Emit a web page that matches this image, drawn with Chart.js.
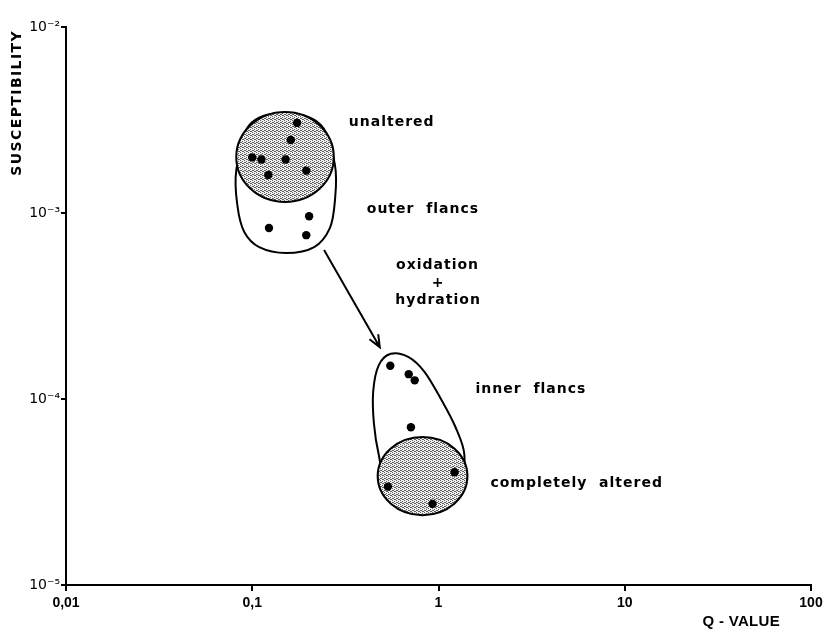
<!DOCTYPE html>
<html>
<head>
<meta charset="utf-8">
<script src="https://cdn.jsdelivr.net/npm/chart.js@4/dist/chart.umd.min.js"></script>
<style>
  body { margin: 0; background: #fff; }
  #wrap { width: 823px; height: 633px; }
</style>
</head>
<body>
<div id="wrap"><canvas id="myChart"></canvas></div>
<script>
// axis ticks
const xTickValues = [0.01, 0.1, 1, 10, 100];
const xTickLabels = ['0,01', '0,1', '1', '10', '100'];
const yTickValues = [1e-5, 1e-4, 1e-3, 1e-2];
const yTickLabels = ['10⁻⁵', '10⁻⁴', '10⁻³', '10⁻²'];

// measured samples (Q-value, susceptibility)
const unalteredQ = [0.174, 0.161, 0.100, 0.112, 0.151, 0.195, 0.122];
const unalteredK = [3.05e-3, 2.47e-3, 1.99e-3, 1.94e-3, 1.94e-3, 1.69e-3, 1.60e-3];
const outerQ = [0.202, 0.123, 0.195];
const outerK = [9.6e-4, 8.3e-4, 7.6e-4];
const innerQ = [0.551, 0.692, 0.745, 0.711];
const innerK = [1.51e-4, 1.36e-4, 1.26e-4, 7.05e-5];
const alteredQ = [1.22, 0.535, 0.929];
const alteredK = [4.04e-5, 3.38e-5, 2.73e-5];

// outlines of the groups
const outerOutlineQ = [0.150, 0.234, 0.278, 0.278, 0.261, 0.215, 0.152, 0.109, 0.0906, 0.0832, 0.0821, 0.0964];
const outerOutlineK = [3.45e-3, 2.97e-3, 1.81e-3, 1.17e-3, 8.3e-4, 6.56e-4, 6.1e-4, 6.56e-4, 7.91e-4, 1.10e-3, 1.70e-3, 2.97e-3];
const innerOutlineQ = [0.554, 0.691, 0.841, 1.025, 1.233, 1.377, 1.279, 0.821, 0.530, 0.478, 0.450, 0.446, 0.478];
const innerOutlineK = [1.75e-4, 1.68e-4, 1.40e-4, 1.01e-4, 7.07e-5, 5.0e-5, 3.45e-5, 2.69e-5, 3.6e-5, 5.0e-5, 7.4e-5, 1.10e-4, 1.52e-4];
// shaded circles: centre and radius in decades
const circleQ = [0.150, 0.821];
const circleK = [2.0e-3, 3.85e-5];
const circleRq = [0.262, 0.241];
const circleRk = [0.242, 0.21];

// arrow from upper group to lower group
const arrowQ = [0.243, 0.484];
const arrowK = [6.32e-4, 1.90e-4];

// labels
const noteText = ['unaltered', 'outer  flancs', 'oxidation', '+', 'hydration', 'inner  flancs', 'completely  altered'];
const noteQ = [0.330, 0.412, 0.988, 0.995, 0.995, 1.58, 1.90];
const noteK = [3.08e-3, 1.05e-3, 5.25e-4, 4.20e-4, 3.40e-4, 1.13e-4, 3.54e-5];
const noteAlign = ['left', 'left', 'center', 'center', 'center', 'left', 'left'];

function toPts(qs, ks) {
    return qs.map((q, i) => ({x: q, y: ks[i]}));
}

function makeStipple() {
    const c = document.createElement('canvas');
    c.width = 4; c.height = 4;
    const g = c.getContext('2d');
    g.fillStyle = '#f0f0f0';
    g.fillRect(0, 0, 4, 4);
    g.fillStyle = '#5e5e5e';
    [[0, 0], [2, 1], [1, 2], [3, 3], [2, 3], [0, 2]].forEach(p => g.fillRect(p[0], p[1], 1, 1));
    return c;
}

function smoothClosed(ctx, pts) {
    const n = pts.length;
    ctx.beginPath();
    ctx.moveTo(pts[0].x, pts[0].y);
    for (let i = 0; i < n; i++) {
        const p0 = pts[(i - 1 + n) % n], p1 = pts[i], p2 = pts[(i + 1) % n], p3 = pts[(i + 2) % n];
        ctx.bezierCurveTo(p1.x + (p2.x - p0.x) / 6, p1.y + (p2.y - p0.y) / 6,
                          p2.x - (p3.x - p1.x) / 6, p2.y - (p3.y - p1.y) / 6,
                          p2.x, p2.y);
    }
    ctx.closePath();
}

const shapesPlugin = {
    id: 'shapes',
    beforeDatasetsDraw(chart) {
        const ctx = chart.ctx, xs = chart.scales.x, ys = chart.scales.y;
        const pattern = ctx.createPattern(makeStipple(), 'repeat');
        const px = (qs, ks) => qs.map((q, i) => ({x: xs.getPixelForValue(q), y: ys.getPixelForValue(ks[i])}));
        const outlines = [px(outerOutlineQ, outerOutlineK), px(innerOutlineQ, innerOutlineK)];
        ctx.save();
        ctx.lineWidth = 2;
        ctx.strokeStyle = '#000';
        outlines.forEach((o, i) => {
            smoothClosed(ctx, o);
            ctx.fillStyle = '#fff';
            ctx.fill();
            ctx.stroke();
            // circle sits on top of the outline
            const cx = xs.getPixelForValue(circleQ[i]);
            const cy = ys.getPixelForValue(circleK[i]);
            const rx = xs.getPixelForValue(circleQ[i] * Math.pow(10, circleRq[i])) - cx;
            const ry = cy - ys.getPixelForValue(circleK[i] * Math.pow(10, circleRk[i]));
            ctx.beginPath();
            ctx.ellipse(cx, cy, rx, ry, 0, 0, Math.PI * 2);
            ctx.fillStyle = pattern;
            ctx.fill();
            ctx.stroke();
        });
        ctx.restore();
    },
    afterDatasetsDraw(chart) {
        const ctx = chart.ctx, xs = chart.scales.x, ys = chart.scales.y;
        ctx.save();
        // arrow
        const x0 = xs.getPixelForValue(arrowQ[0]), y0 = ys.getPixelForValue(arrowK[0]);
        const x1 = xs.getPixelForValue(arrowQ[1]), y1 = ys.getPixelForValue(arrowK[1]);
        const ang = Math.atan2(y1 - y0, x1 - x0);
        ctx.strokeStyle = '#000';
        ctx.lineWidth = 2;
        ctx.beginPath();
        ctx.moveTo(x0, y0);
        ctx.lineTo(x1, y1);
        ctx.moveTo(x1 - 13 * Math.cos(ang - 0.4), y1 - 13 * Math.sin(ang - 0.4));
        ctx.lineTo(x1, y1);
        ctx.lineTo(x1 - 13 * Math.cos(ang + 0.4), y1 - 13 * Math.sin(ang + 0.4));
        ctx.stroke();

        // labels
        ctx.fillStyle = '#000';
        ctx.font = 'bold 14px "DejaVu Sans"';
        ctx.letterSpacing = '1px';
        ctx.textBaseline = 'middle';
        noteText.forEach((t, i) => {
            ctx.textAlign = noteAlign[i];
            ctx.fillText(t, xs.getPixelForValue(noteQ[i]), ys.getPixelForValue(noteK[i]));
        });

        // axis titles
        ctx.font = 'bold 15px "Liberation Sans"';
        ctx.letterSpacing = '0.3px';
        ctx.textAlign = 'right';
        ctx.fillText('Q - VALUE', xs.right - 31, 622);

        ctx.font = 'bold 14px "DejaVu Sans"';
        ctx.letterSpacing = '1.4px';
        ctx.translate(17, ys.top + 3);
        ctx.rotate(-Math.PI / 2);
        ctx.textAlign = 'right';
        ctx.fillText('SUSCEPTIBILITY', 0, 0);
        ctx.restore();
    }
};

const dot = {pointRadius: 4.2, pointHoverRadius: 4.2, backgroundColor: '#000', borderColor: '#000', borderWidth: 0};

const ctx = document.getElementById('myChart').getContext('2d');
const myChart = new Chart(ctx, {
    type: 'scatter',
    data: {
        datasets: [
            Object.assign({label: 'unaltered', data: toPts(unalteredQ, unalteredK)}, dot),
            Object.assign({label: 'outer flancs', data: toPts(outerQ, outerK)}, dot),
            Object.assign({label: 'inner flancs', data: toPts(innerQ, innerK)}, dot),
            Object.assign({label: 'completely altered', data: toPts(alteredQ, alteredK)}, dot)
        ]
    },
    options: {
        responsive: true,
        maintainAspectRatio: false,
        animation: false,
        events: [],
        layout: {padding: {left: 0, right: 12, top: 27, bottom: 0}},
        plugins: {legend: {display: false}, tooltip: {enabled: false}},
        scales: {
            x: {
                type: 'logarithmic',
                min: 0.01,
                max: 100,
                afterBuildTicks: (scale) => { scale.ticks = xTickValues.map(v => ({value: v})); },
                afterFit: (scale) => { scale.height = 48; scale.paddingLeft = 0; scale.paddingRight = 0; },
                ticks: {
                    autoSkip: false,
                    maxRotation: 0,
                    padding: 4,
                    color: '#000',
                    font: {family: 'Liberation Sans', size: 14, weight: 'bold'},
                    callback: (v, i) => xTickLabels[i]
                },
                grid: {drawOnChartArea: false, drawTicks: true, tickLength: 6, color: '#000', lineWidth: 2},
                border: {display: true, color: '#000', width: 2}
            },
            y: {
                type: 'logarithmic',
                min: 1e-5,
                max: 1e-2,
                afterBuildTicks: (scale) => { scale.ticks = yTickValues.map(v => ({value: v})); },
                afterFit: (scale) => { scale.width = 66; scale.paddingTop = 0; scale.paddingBottom = 0; },
                ticks: {
                    autoSkip: false,
                    padding: 1,
                    color: '#000',
                    font: {family: 'DejaVu Sans', size: 14},
                    callback: (v, i) => yTickLabels[i]
                },
                grid: {drawOnChartArea: false, drawTicks: true, tickLength: 5, color: '#000', lineWidth: 2},
                border: {display: true, color: '#000', width: 2}
            }
        }
    },
    plugins: [shapesPlugin]
});
</script>
</body>
</html>
